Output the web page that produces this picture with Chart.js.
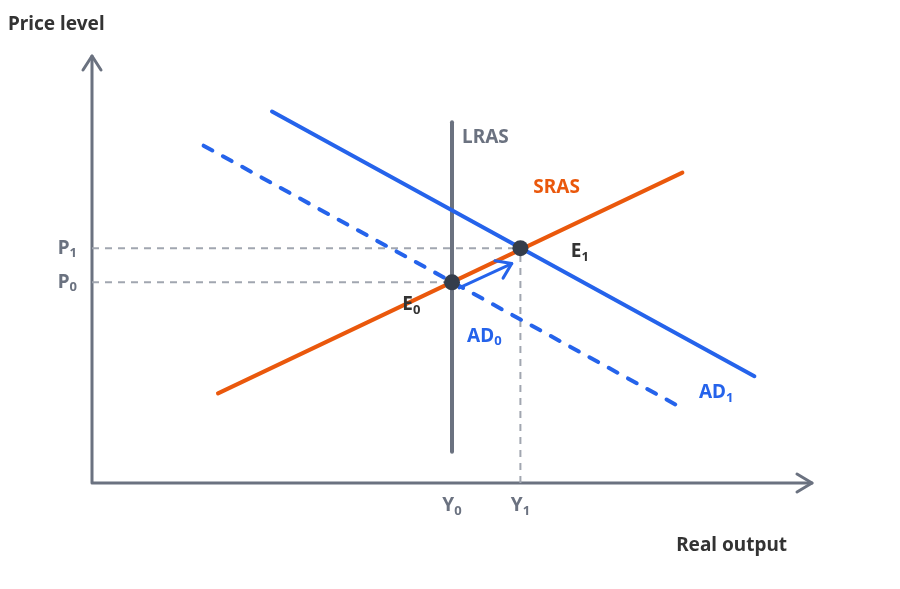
<!DOCTYPE html>
<html>
<head>
<meta charset="utf-8">
<script src="https://cdn.jsdelivr.net/npm/chart.js@4.4.1/dist/chart.umd.min.js"></script>
<style>
  html, body { margin: 0; padding: 0; background: #fff; }
  #wrap { width: 900px; height: 589px; position: relative; }
</style>
</head>
<body>
<div id="wrap"><canvas id="chart"></canvas></div>
<script>
// values (x = real output, y = price level, arbitrary units 0..10)
const outputLevels = { Y0: 5, Y1: 5.95 };
const priceLevels = { P0: 4.7, P1: 5.5 };

const lrasLine = [{ x: 5, y: 0.73 }, { x: 5, y: 8.45 }];
const srasLine = [{ x: 1.75, y: 2.1 }, { x: 8.2, y: 7.27 }];
const ad0Line = [{ x: 1.55, y: 7.9 }, { x: 8.2, y: 1.75 }];
const ad1Line = [{ x: 2.5, y: 8.7 }, { x: 9.2, y: 2.5 }];
const shiftArrow = [{ x: 5.1, y: 4.57 }, { x: 5.83, y: 5.14 }];
const equilibria = [
  { x: outputLevels.Y0, y: priceLevels.P0 },
  { x: outputLevels.Y1, y: priceLevels.P1 }
];

const guideP1 = [{ x: 0, y: priceLevels.P1 }, { x: outputLevels.Y1, y: priceLevels.P1 }];
const guideP0 = [{ x: 0, y: priceLevels.P0 }, { x: outputLevels.Y0, y: priceLevels.P0 }];
const guideY1 = [{ x: outputLevels.Y1, y: 0 }, { x: outputLevels.Y1, y: priceLevels.P1 }];

const BLUE = '#2563eb';
const ORANGE = '#ea580c';
const AXIS = '#6b7280';
const GUIDE = '#a1a6b0';
const DOT = '#343d4b';
const INK = '#333333';
const FONT = '"Noto Sans", "Open Sans", sans-serif';

// curve labels: [main, subscript, x, y, colour] (left edge, vertical centre, in data units)
const curveLabels = [
  ['LRAS', '', 5.14, 8.08, AXIS],
  ['SRAS', '', 6.13, 6.91, ORANGE],
  ['E', '1', 6.65, 5.41, INK],
  ['E', '0', 4.31, 4.17, INK],
  ['AD', '0', 5.21, 3.44, BLUE],
  ['AD', '1', 8.43, 2.11, BLUE]
];

function drawSub(ctx, main, sub, x, y, size, align) {
  ctx.font = 'bold ' + size + 'px ' + FONT;
  const w1 = ctx.measureText(main).width;
  ctx.font = 'bold ' + Math.round(size * 0.68) + 'px ' + FONT;
  const w2 = sub ? ctx.measureText(sub).width : 0;
  let left = x;
  if (align === 'right') left = x - w1 - w2;
  if (align === 'center') left = x - (w1 + w2) / 2;
  ctx.textAlign = 'left';
  ctx.textBaseline = 'middle';
  ctx.font = 'bold ' + size + 'px ' + FONT;
  ctx.fillText(main, left, y);
  if (sub) {
    ctx.font = 'bold ' + Math.round(size * 0.68) + 'px ' + FONT;
    ctx.fillText(sub, left + w1, y + size * 0.28);
  }
}

const diagramPlugin = {
  id: 'diagram',
  beforeDatasetsDraw(chart) {
    const { ctx, chartArea: a } = chart;
    ctx.save();
    ctx.strokeStyle = AXIS;
    ctx.lineWidth = 3;
    ctx.lineCap = 'round';
    ctx.lineJoin = 'round';
    // axes with open arrow heads
    ctx.beginPath();
    ctx.moveTo(a.left, a.top);
    ctx.lineTo(a.left, a.bottom);
    ctx.lineTo(a.right, a.bottom);
    ctx.stroke();
    ctx.beginPath();
    ctx.moveTo(a.left - 9, a.top + 14);
    ctx.lineTo(a.left, a.top);
    ctx.lineTo(a.left + 9, a.top + 14);
    ctx.moveTo(a.right - 15, a.bottom - 9);
    ctx.lineTo(a.right, a.bottom);
    ctx.lineTo(a.right - 15, a.bottom + 9);
    ctx.stroke();
    ctx.restore();
  },
  afterDatasetsDraw(chart) {
    const { ctx, chartArea: a, scales: { x, y } } = chart;
    ctx.save();
    // arrow head on the shift arrow
    const s = shiftArrow[0], e = shiftArrow[1];
    const sx = x.getPixelForValue(s.x), sy = y.getPixelForValue(s.y);
    const ex = x.getPixelForValue(e.x), ey = y.getPixelForValue(e.y);
    const ang = Math.atan2(ey - sy, ex - sx);
    ctx.strokeStyle = BLUE;
    ctx.lineWidth = 3;
    ctx.lineCap = 'round';
    ctx.lineJoin = 'round';
    ctx.beginPath();
    ctx.moveTo(ex - 17 * Math.cos(ang - 0.6), ey - 17 * Math.sin(ang - 0.6));
    ctx.lineTo(ex, ey);
    ctx.lineTo(ex - 17 * Math.cos(ang + 0.6), ey - 17 * Math.sin(ang + 0.6));
    ctx.stroke();

    // curve labels
    curveLabels.forEach(([m, sub, lx, ly, col]) => {
      ctx.fillStyle = col;
      drawSub(ctx, m, sub, x.getPixelForValue(lx), y.getPixelForValue(ly), 19, 'left');
    });

    // price and output markers
    ctx.fillStyle = AXIS;
    drawSub(ctx, 'P', '1', a.left - 15, y.getPixelForValue(priceLevels.P1), 19, 'right');
    drawSub(ctx, 'P', '0', a.left - 15, y.getPixelForValue(priceLevels.P0), 19, 'right');
    drawSub(ctx, 'Y', '0', x.getPixelForValue(outputLevels.Y0), a.bottom + 23, 19, 'center');
    drawSub(ctx, 'Y', '1', x.getPixelForValue(outputLevels.Y1), a.bottom + 23, 19, 'center');

    // axis titles
    ctx.fillStyle = INK;
    ctx.font = 'bold 19px ' + FONT;
    ctx.textBaseline = 'middle';
    ctx.textAlign = 'left';
    ctx.fillText('Price level', 8, 25);
    ctx.textAlign = 'right';
    ctx.fillText('Real output', 787, 546);
    ctx.restore();
  }
};

const lineDs = (data, color, width, order, dash, cap) => ({
  data, showLine: true, borderColor: color, borderWidth: width,
  pointRadius: 0, pointHoverRadius: 0, borderDash: dash || [],
  borderCapStyle: cap || 'round', order, fill: false
});

new Chart(document.getElementById('chart'), {
  type: 'scatter',
  data: {
    datasets: [
      { data: equilibria, showLine: false, pointRadius: 8, pointHoverRadius: 8,
        backgroundColor: DOT, borderColor: DOT, borderWidth: 0, order: 0 },
      lineDs(shiftArrow, BLUE, 3, 1),
      lineDs(srasLine, ORANGE, 4, 2),
      lineDs(ad1Line, BLUE, 4, 3),
      lineDs(ad0Line, BLUE, 4, 4, [10, 12]),
      lineDs(lrasLine, AXIS, 4, 5),
      lineDs(guideP1, GUIDE, 2, 6, [7, 6], 'butt'),
      lineDs(guideP0, GUIDE, 2, 6, [7, 6], 'butt'),
      lineDs(guideY1, GUIDE, 2, 6, [7, 6], 'butt')
    ]
  },
  options: {
    responsive: true,
    maintainAspectRatio: false,
    animation: false,
    layout: { padding: { left: 92, top: 56, right: 88, bottom: 106 } },
    plugins: { legend: { display: false }, tooltip: { enabled: false } },
    scales: {
      x: { type: 'linear', min: 0, max: 10, display: false },
      y: { type: 'linear', min: 0, max: 10, display: false }
    }
  },
  plugins: [diagramPlugin]
});
</script>
</body>
</html>
